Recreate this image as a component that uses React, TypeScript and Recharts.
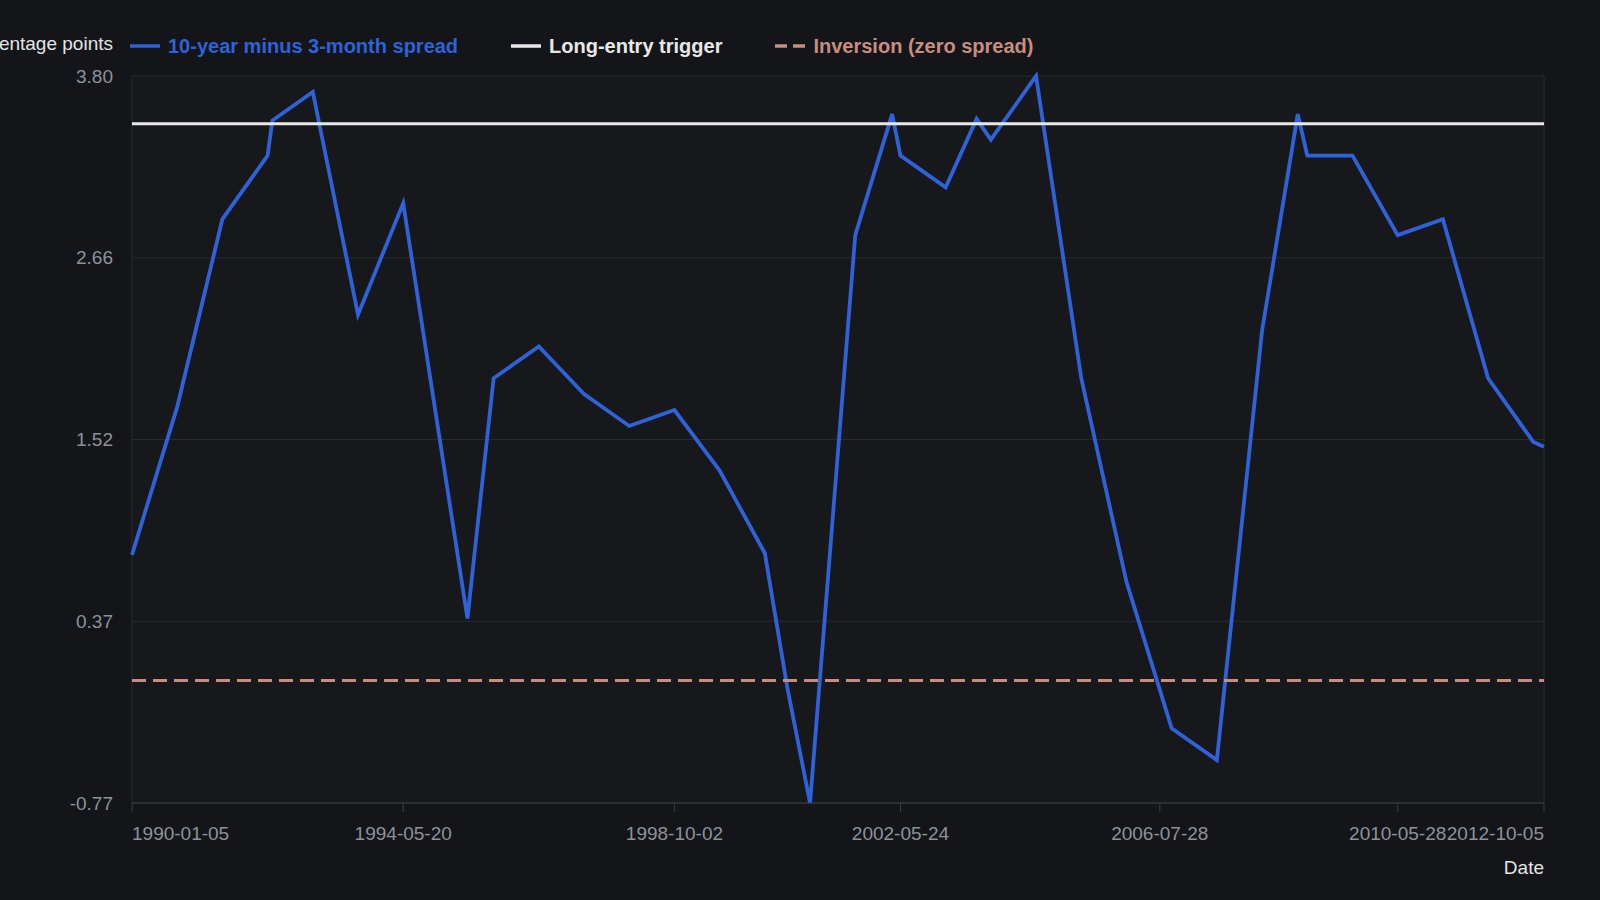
import React from "react";
import {
  CartesianGrid,
  Legend,
  Line,
  LineChart,
  ReferenceLine,
  XAxis,
  YAxis,
} from "recharts";

// sample dates (Fridays) and the 10y - 3m spread in percentage points
const dates = [
  "1990-01-05", "1990-09-28", "1991-06-21", "1992-03-13", "1992-04-10", "1992-12-04",
  "1993-08-27", "1994-05-20", "1995-06-02", "1995-11-03", "1996-07-26", "1997-04-18",
  "1998-01-09", "1998-10-02", "1999-06-25", "2000-03-17", "2000-07-28", "2000-12-08",
  "2001-08-31", "2002-04-05", "2002-05-24", "2003-02-14", "2003-08-15", "2003-11-07",
  "2004-07-30", "2005-04-22", "2006-01-13", "2006-10-06", "2007-06-29", "2008-03-21",
  "2008-10-17", "2008-12-12", "2009-09-04", "2010-05-28", "2011-02-18", "2011-11-11",
  "2012-08-03", "2012-10-05",
];
const spread = [
  0.79, 1.72, 2.9, 3.3, 3.52, 3.7,
  2.3, 3.0, 0.39, 1.9, 2.1, 1.8,
  1.6, 1.7, 1.32, 0.8, -0.05, -0.77,
  2.8, 3.56, 3.3, 3.1, 3.53, 3.4,
  3.8, 1.9, 0.62, -0.3, -0.5, 2.2,
  3.56, 3.3, 3.3, 2.8, 2.9, 1.9,
  1.5, 1.47,
];

const xTickDates = ["1990-01-05", "1994-05-20", "1998-10-02", "2002-05-24", "2006-07-28", "2010-05-28", "2012-10-05"];
const yTickValues = [-0.77, 0.3725, 1.515, 2.6575, 3.8];
const yTickLabels = ["-0.77", "0.37", "1.52", "2.66", "3.80"];

const triggerLevel = 3.5;
const inversionLevel = 0;

const legendItems = [
  { label: "10-year minus 3-month spread", color: "#2f62d8", dashed: false },
  { label: "Long-entry trigger", color: "#e8e8e6", dashed: false },
  { label: "Inversion (zero spread)", color: "#c98d80", dashed: true },
];

const data = dates.map((d, i) => ({ t: Date.parse(d), spread: spread[i] }));
const xTicks = xTickDates.map((d) => Date.parse(d));

const FONT = '"Liberation Sans", Arial, Helvetica, sans-serif';
const fmtDate = (v: number) => new Date(v).toISOString().slice(0, 10);

function DateTick(props: any) {
  const { x, y, payload } = props;
  const v = payload.value;
  const anchor = v === xTicks[0] ? "start" : v === xTicks[xTicks.length - 1] ? "end" : "middle";
  return (
    <text x={x} y={y} dy="0.71em" textAnchor={anchor} fill="#8e9298" fontSize={19} fontFamily={FONT}>
      {fmtDate(v)}
    </text>
  );
}

function LegendRow() {
  return (
    <div style={{ height: 54, fontFamily: FONT }}>
      <div style={{ height: 48, display: "flex", alignItems: "center", paddingLeft: 130 }}>
        {legendItems.map((item) => (
          <div key={item.label} style={{ display: "flex", alignItems: "center", marginRight: 53 }}>
            <svg width={30} height={6} style={{ marginRight: 8 }}>
              <line
                x1={0}
                x2={30}
                y1={3}
                y2={3}
                stroke={item.color}
                strokeWidth={3.5}
                strokeDasharray={item.dashed ? "12 6" : undefined}
              />
            </svg>
            <span style={{ color: item.color, fontWeight: 700, fontSize: 20 }}>{item.label}</span>
          </div>
        ))}
      </div>
    </div>
  );
}

export default function App() {
  return (
    <div style={{ position: "fixed", left: 0, top: 0, width: 1600, height: 900, background: "#131519" }}>
      <LineChart width={1600} height={900} data={data} margin={{ top: 22, right: 56, left: 0, bottom: 0 }}>
        <CartesianGrid
          stroke="#272a2f"
          fill="#16181c"
          verticalCoordinatesGenerator={({ offset }: any) => [offset.left, offset.left + offset.width]}
        />
        <XAxis
          dataKey="t"
          type="number"
          domain={["dataMin", "dataMax"]}
          ticks={xTicks}
          tick={<DateTick />}
          height={97}
          tickSize={9}
          tickMargin={15}
          stroke="#3a3d43"
          label={{
            content: (p: any) => (
              <text
                x={p.viewBox.x + p.viewBox.width}
                y={p.viewBox.y + 71}
                textAnchor="end"
                fill="#e4e4e4"
                fontSize={19}
                fontFamily={FONT}
              >
                Date
              </text>
            ),
          }}
        />
        <YAxis
          type="number"
          domain={[-0.77, 3.8]}
          ticks={yTickValues}
          tickFormatter={(_v: number, i: number) => yTickLabels[i]}
          width={132}
          axisLine={false}
          tickLine={false}
          tickSize={6}
          tickMargin={13}
          tick={{ fill: "#8e9298", fontSize: 19, fontFamily: FONT }}
          label={{
            content: (p: any) => (
              <text
                x={p.viewBox.x + p.viewBox.width - 19}
                y={p.viewBox.y - 26}
                textAnchor="end"
                fill="#e4e4e4"
                fontSize={19}
                fontFamily={FONT}
              >
                Percentage points
              </text>
            ),
          }}
        />
        <Legend verticalAlign="top" align="left" content={<LegendRow />} />
        <Line
          type="linear"
          dataKey="spread"
          stroke="#2f62d8"
          strokeWidth={3.8}
          dot={false}
          activeDot={false}
          isAnimationActive={false}
        />
        <ReferenceLine y={triggerLevel} stroke="#e8e8e6" strokeWidth={3} />
        <ReferenceLine y={inversionLevel} stroke="#c98d80" strokeWidth={3} strokeDasharray="14 7" />
      </LineChart>
    </div>
  );
}
